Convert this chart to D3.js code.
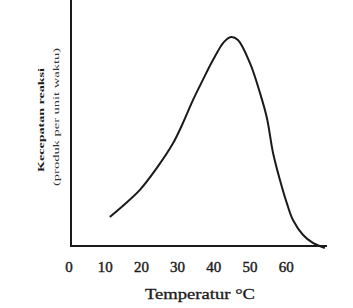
<!DOCTYPE html>
<html>
<head>
<meta charset="utf-8">
<script src="https://cdn.jsdelivr.net/npm/d3@7"></script>
<style>
  body { margin: 0; background: #fff; }
  svg { display: block; }
</style>
</head>
<body>
<div id="chart"></div>
<script>
const width = 353;
const height = 308;

// temperature (°C) and reaction rate (relative units)
const temps = [11.0, 15.2, 19.3, 24.0, 28.5, 31.2, 34.0, 36.7, 39.5, 42.5, 44.5, 46.4, 49.7, 52.5, 54.4, 56.1, 58.0, 59.9, 61.6, 64.4, 67.1, 70.4];
const rates = [13.2, 19.1, 25.5, 35.5, 46.8, 55.9, 66.4, 75.5, 84.5, 92.7, 95, 93.6, 83.2, 69.5, 58.2, 42.3, 30, 19.5, 11.8, 5, 1.4, -0.9];
const tickValues = [0, 10, 20, 30, 40, 50, 60];

const x = d3.scaleLinear().domain([0, 71]).range([70, 327]);
const y = d3.scaleLinear().domain([0, 100]).range([246, 26]);

const svg = d3.select("#chart")
  .append("svg")
  .attr("width", width)
  .attr("height", height);

// axes (plain lines, no tick marks in the original)
svg.append("line")
  .attr("x1", x(0) + 1).attr("y1", 0)
  .attr("x2", x(0) + 1).attr("y2", y(0))
  .style("stroke", "#1a1a1a")
  .style("stroke-width", 2);

svg.append("line")
  .attr("x1", x(0)).attr("y1", y(0))
  .attr("x2", x(71)).attr("y2", y(0))
  .style("stroke", "#1a1a1a")
  .style("stroke-width", 2.2);

svg.selectAll("text.tick")
  .data(tickValues)
  .enter()
  .append("text")
  .attr("class", "tick")
  .attr("x", d => x(d) - 1)
  .attr("y", 272)
  .attr("text-anchor", "middle")
  .style("font-family", "Liberation Serif")
  .style("font-size", "15px")
  .style("fill", "#1a1a1a")
  .style("stroke", "#1a1a1a")
  .style("stroke-width", 0.4)
  .text(d => d);

svg.append("text")
  .attr("x", 200)
  .attr("y", 299)
  .attr("text-anchor", "middle")
  .attr("textLength", 110)
  .attr("lengthAdjust", "spacingAndGlyphs")
  .style("font-family", "Liberation Serif")
  .style("font-size", "15px")
  .style("fill", "#1a1a1a")
  .style("stroke", "#1a1a1a")
  .style("stroke-width", 0.3)
  .text("Temperatur °C");

svg.append("text")
  .attr("transform", "translate(44,120) rotate(-90)")
  .attr("text-anchor", "middle")
  .attr("textLength", 104)
  .attr("lengthAdjust", "spacingAndGlyphs")
  .style("font-family", "Liberation Serif")
  .style("font-size", "9px")
  .style("font-weight", "bold")
  .style("fill", "#1a1a1a")
  .text("Kecepatan reaksi");

svg.append("text")
  .attr("transform", "translate(59,117) rotate(-90)")
  .attr("text-anchor", "middle")
  .attr("textLength", 138)
  .attr("lengthAdjust", "spacingAndGlyphs")
  .style("font-family", "Liberation Serif")
  .style("font-size", "8.5px")
  .style("fill", "#333")
  .text("(produk per unit waktu)");

const points = temps.map((t, i) => [t, rates[i]]);

const line = d3.line()
  .x(d => x(d[0]))
  .y(d => y(d[1]))
  .curve(d3.curveCatmullRom.alpha(0.5));

svg.append("path")
  .datum(points)
  .attr("d", line)
  .style("fill", "none")
  .style("stroke", "#1a1a1a")
  .style("stroke-width", 2);
</script>
</body>
</html>
